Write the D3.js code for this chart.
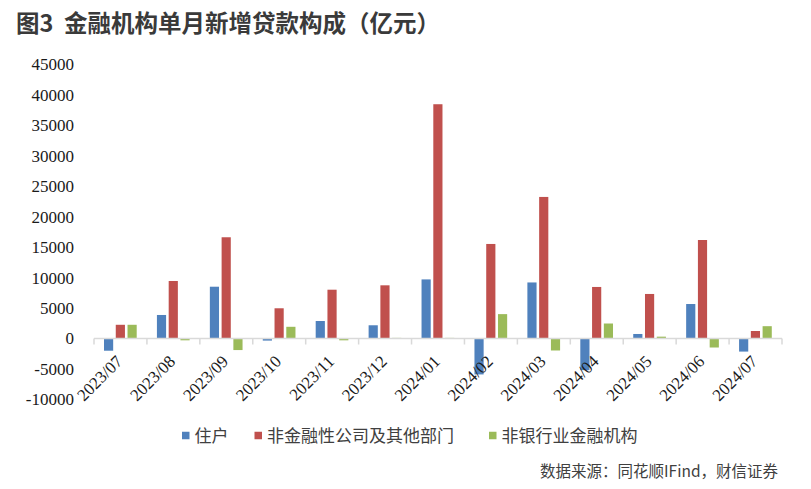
<!DOCTYPE html>
<html><head><meta charset="utf-8">
<script src="https://cdn.jsdelivr.net/npm/d3@7"></script>
<style>
body{margin:0;background:#fff;}
svg{display:block;}
</style></head>
<body>
<svg id="c" width="811" height="489"></svg>
<script>
const categories = ["2023/07","2023/08","2023/09","2023/10","2023/11","2023/12","2024/01","2024/02","2024/03","2024/04","2024/05","2024/06","2024/07"];
const seriesNames = ["住户","非金融性公司及其他部门","非银行业金融机构"];
const household = [-2007, 3860, 8500, -346, 2870, 2170, 9700, -5900, 9200, -5200, 740, 5660, -2150];
const corporate = [2250, 9440, 16620, 4960, 8010, 8730, 38460, 15520, 23240, 8460, 7310, 16170, 1230];
const nonbank = [2250, -300, -1900, 1920, -300, 100, 100, 4000, -1970, 2460, 300, -1480, 2020];
const yTicks = [-10000,-5000,0,5000,10000,15000,20000,25000,30000,35000,40000,45000];
const colors = ["#4f81bd","#c0504d","#9bbb59"];
const seriesValues = [household, corporate, nonbank];

const svg = d3.select("#c");
const x0 = d3.scaleBand().domain(categories).range([94, 782]).padding(0);
const x1 = d3.scaleBand().domain(d3.range(3)).range([10, 42.7]).paddingInner(0.22).paddingOuter(0);
const y = d3.scaleLinear().domain([-10000, 45000]).range([399.4, 64.4]);

const cjk = "'Noto Sans CJK SC', 'Noto Sans', sans-serif";
const serif = "'Liberation Serif', 'Times New Roman', serif";

// title
const title = svg.append("g").attr("font-family", cjk).attr("font-weight", "bold")
  .attr("font-size", 23.5).attr("fill", "#3a3a3a");
title.append("text").attr("x", 16).attr("y", 32).text("图3");
title.append("text").attr("x", 64).attr("y", 32).text("金融机构单月新增贷款构成（亿元）");

// y tick labels
svg.append("g").selectAll("text").data(yTicks).join("text")
  .attr("x", 74).attr("y", d => y(d)).attr("dy", "0.35em")
  .attr("text-anchor", "end")
  .attr("font-family", serif)
  .attr("font-size", 17).attr("fill", "#1a1a1a")
  .text(d => d);

// bars
const groups = svg.append("g").selectAll("g").data(categories).join("g")
  .attr("transform", d => `translate(${x0(d)},0)`);
groups.selectAll("rect").data((d, i) => seriesValues.map((s, k) => ({k, v: s[i]}))).join("rect")
  .attr("x", d => x1(d.k)).attr("width", x1.bandwidth())
  .attr("y", d => y(Math.max(0, d.v))).attr("height", d => Math.abs(y(d.v) - y(0)))
  .attr("fill", d => colors[d.k]);

// x axis line and ticks
const axis = svg.append("g").attr("transform", `translate(0,${y(0)})`);
axis.append("line").attr("x1", 94).attr("x2", 782).attr("stroke", "#d9d9d9").attr("stroke-width", 1.5);
const bounds = categories.map(c => x0(c)).concat([x0(categories[categories.length-1]) + x0.bandwidth()]);
axis.selectAll("line.t").data(bounds).join("line").attr("class","t")
  .attr("x1", d => d).attr("x2", d => d).attr("y1", 0).attr("y2", 6)
  .attr("stroke", "#d9d9d9").attr("stroke-width", 1.5);

// x labels
svg.append("g").selectAll("text").data(categories).join("text")
  .attr("transform", d => `translate(${x0(d) + x0.bandwidth()/2 + 3},${y(0) + 24}) rotate(-45)`)
  .attr("text-anchor", "end")
  .attr("font-family", serif)
  .attr("font-size", 17).attr("fill", "#1a1a1a")
  .text(d => d);

// legend
const legX = [182, 254.5, 489];
const leg = svg.append("g").selectAll("g").data(seriesNames).join("g")
  .attr("transform", (d, i) => `translate(${legX[i]},435.5)`);
leg.append("rect").attr("x", 0).attr("y", -3.75).attr("width", 7.5).attr("height", 7.5).attr("fill", (d, i) => colors[i]);
leg.append("text").attr("x", 12.5).attr("y", 0).attr("dy", "0.36em")
  .attr("font-family", cjk).attr("font-size", 17).attr("fill", "#404040")
  .text(d => d);

// source
svg.append("text").attr("x", 778).attr("y", 471.5).attr("dy", "0.36em").attr("text-anchor", "end")
  .attr("font-family", cjk).attr("font-size", 15.5).attr("fill", "#404040")
  .text("数据来源：同花顺IFind，财信证券");
</script>
</body></html>
